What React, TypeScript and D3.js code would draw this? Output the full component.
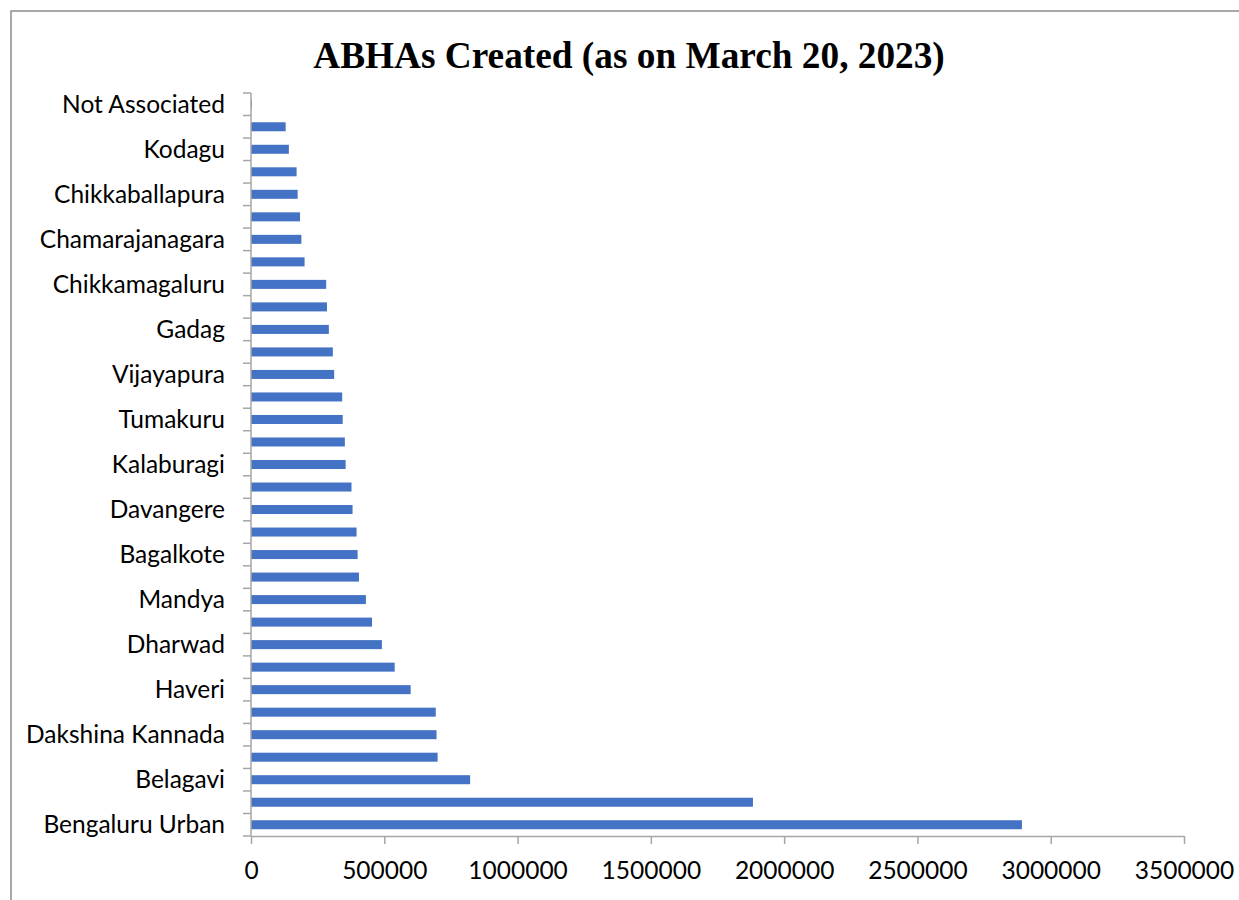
import { useEffect, useRef } from 'react';
import * as d3 from 'd3';

// bottom to top, as drawn by the source chart
const districts = [
  'Bengaluru Urban', 'BBMP', 'Belagavi', 'Mysuru', 'Dakshina Kannada', 'Raichur',
  'Haveri', 'Shivamogga', 'Dharwad', 'Hassan', 'Mandya', 'Ballari', 'Bagalkote',
  'Chitradurga', 'Davangere', 'Uttara Kannada', 'Kalaburagi', 'Koppal', 'Tumakuru',
  'Bidar', 'Vijayapura', 'Udupi', 'Gadag', 'Kolar', 'Chikkamagaluru', 'Yadgir',
  'Chamarajanagara', 'Vijayanagara', 'Chikkaballapura', 'Ramanagara', 'Kodagu',
  'Bengaluru Rural', 'Not Associated',
];

const abhas = [
  2892000, 1883000, 822000, 700000, 696000, 693000,
  599000, 539000, 491000, 454000, 431000, 405000, 400000,
  396000, 381000, 377000, 355000, 352000, 344000,
  342000, 312000, 307000, 292000, 285000, 282000, 201000,
  189000, 184000, 175000, 171000, 142000,
  130000, 3000,
];

const xTicks = [0, 500000, 1000000, 1500000, 2000000, 2500000, 3000000, 3500000];

const title = 'ABHAs Created (as on March 20, 2023)';

export default function App() {
  const svgRef = useRef<SVGSVGElement>(null);

  useEffect(() => {
    if (!svgRef.current) return;
    const width = 1239;
    const height = 900;
    const margin = { top: 93, right: 55, bottom: 64, left: 251 };
    const axisGray = '#a6a6a6';
    const labelFont = 'Lato, "Open Sans", sans-serif';
    const labelSize = '24.5px';

    d3.select(svgRef.current).selectAll('*').remove();

    const svg = d3
      .select(svgRef.current)
      .attr('width', width)
      .attr('height', height);

    // chart frame
    svg
      .append('path')
      .attr('d', `M11,${height + 5} L11,11 L${width + 5},11`)
      .attr('fill', 'none')
      .attr('stroke', '#8c8c8c')
      .attr('stroke-width', 1.5);

    const data = districts.map((name, i) => ({ name, value: abhas[i] }));

    const xScale = d3
      .scaleLinear()
      .domain([0, 3500000])
      .range([margin.left, width - margin.right]);

    const yScale = d3
      .scaleBand()
      .domain(districts)
      .range([height - margin.bottom, margin.top])
      .paddingInner(0.6)
      .paddingOuter(0.3);

    const bottomY = height - margin.bottom;

    // bars
    svg
      .selectAll('.bar')
      .data(data)
      .enter()
      .append('rect')
      .attr('class', 'bar')
      .attr('x', xScale(0))
      .attr('y', (d) => yScale(d.name) || 0)
      .attr('width', (d) => xScale(d.value) - xScale(0))
      .attr('height', yScale.bandwidth())
      .attr('fill', '#4472c4');

    // x axis
    const xAxis = svg
      .append('g')
      .attr('transform', `translate(0, ${bottomY})`)
      .call(d3.axisBottom(xScale).tickValues(xTicks).tickSize(8).tickSizeOuter(0).tickFormat(d3.format('d')));
    xAxis.select('.domain').attr('stroke', axisGray).attr('stroke-width', 1.5);
    xAxis.selectAll('.tick line').attr('stroke', axisGray).attr('stroke-width', 1.5);
    xAxis
      .selectAll('.tick text')
      .attr('y', 34)
      .attr('dy', '0.35em')
      .style('font-family', labelFont)
      .style('font-size', labelSize)
      .style('fill', '#000');

    // y axis: line, tick marks between categories, every other label
    svg
      .append('line')
      .attr('x1', xScale(0))
      .attr('x2', xScale(0))
      .attr('y1', margin.top)
      .attr('y2', bottomY)
      .attr('stroke', axisGray)
      .attr('stroke-width', 1.5);

    const step = yScale.step();
    const boundaries = d3.range(districts.length + 1).map(
      (i) => height - margin.bottom - i * step
    );
    svg
      .selectAll('.ytick')
      .data(boundaries)
      .enter()
      .append('line')
      .attr('class', 'ytick')
      .attr('x1', xScale(0) - 8)
      .attr('x2', xScale(0))
      .attr('y1', (d) => d)
      .attr('y2', (d) => d)
      .attr('stroke', axisGray)
      .attr('stroke-width', 1.5);

    svg
      .selectAll('.ylabel')
      .data(data.filter((_, i) => i % 2 === 0))
      .enter()
      .append('text')
      .attr('class', 'ylabel')
      .attr('x', xScale(0) - 26)
      .attr('y', (d) => (yScale(d.name) || 0) + yScale.bandwidth() / 2)
      .attr('dy', '0.35em')
      .attr('text-anchor', 'end')
      .style('font-family', labelFont)
      .style('font-size', labelSize)
      .style('fill', '#000')
      .text((d) => d.name);

    // title
    svg
      .append('text')
      .attr('x', 629)
      .attr('y', 68)
      .attr('text-anchor', 'middle')
      .style('font-family', '"Liberation Serif", "Times New Roman", serif')
      .style('font-size', '37.3px')
      .style('font-weight', 'bold')
      .style('fill', '#000')
      .text(title);
  }, []);

  return (
    <div style={{ position: 'absolute', left: 0, top: 0, width: 1239, height: 900, overflow: 'hidden', background: '#fff' }}>
      <svg ref={svgRef} style={{ display: 'block' }} />
    </div>
  );
}
